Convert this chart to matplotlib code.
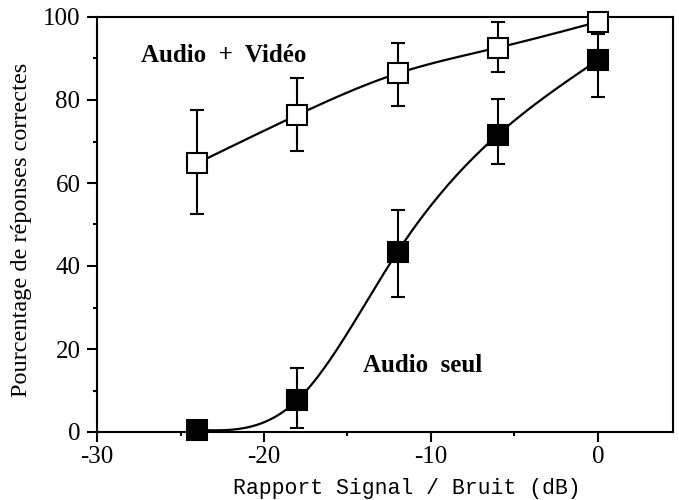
import numpy as np
import matplotlib
matplotlib.use("Agg")
import matplotlib.pyplot as plt
from matplotlib.ticker import MultipleLocator

plt.rcParams["axes.unicode_minus"] = False

# values
snr = [-24, -18, -12, -6, 0]
av_mean = [64.8, 76.4, 86.4, 92.6, 98.8]
av_low = [52.5, 67.7, 78.6, 86.7, 96.0]
av_high = [77.6, 85.3, 93.7, 98.8, 98.8]
a_mean = [0.5, 7.7, 43.4, 71.6, 89.6]
a_low = [0.5, 1.0, 32.5, 64.5, 80.7]
a_high = [0.5, 15.4, 53.5, 80.2, 96.1]


def spline(x, y, n=50):
    # natural cubic spline through the points
    x = np.asarray(x, float)
    y = np.asarray(y, float)
    k = len(x)
    h = np.diff(x)
    A = np.zeros((k, k))
    r = np.zeros(k)
    A[0, 0] = A[-1, -1] = 1
    for i in range(1, k - 1):
        A[i, i - 1] = h[i - 1]
        A[i, i] = 2 * (h[i - 1] + h[i])
        A[i, i + 1] = h[i]
        r[i] = 6 * ((y[i + 1] - y[i]) / h[i] - (y[i] - y[i - 1]) / h[i - 1])
    M = np.linalg.solve(A, r)
    xs, ys = [], []
    for i in range(k - 1):
        t = np.linspace(x[i], x[i + 1], n)
        a, b = x[i + 1] - t, t - x[i]
        ys.append(M[i] * a**3 / (6 * h[i]) + M[i + 1] * b**3 / (6 * h[i])
                  + (y[i] / h[i] - M[i] * h[i] / 6) * a
                  + (y[i + 1] / h[i] - M[i + 1] * h[i] / 6) * b)
        xs.append(t)
    return np.concatenate(xs), np.concatenate(ys)


serif = "Liberation Serif"
fig = plt.figure(figsize=(6.79, 5), dpi=100)
ax = fig.add_axes([0.143, 0.136, 0.848, 0.830])

for mean, low, high, face in [(av_mean, av_low, av_high, "white"),
                              (a_mean, a_low, a_high, "black")]:
    sx, sy = spline(snr, mean)
    ax.plot(sx, sy, color="black", lw=1.6, zorder=2)
    mean = np.array(mean)
    yerr = [mean - np.array(low), np.array(high) - mean]
    ax.errorbar(snr, mean, yerr=yerr, fmt="none", ecolor="black",
                elinewidth=1.5, capsize=5, capthick=1.5, zorder=3)
    ax.plot(snr, mean, "s", ms=14, mfc=face, mec="black", mew=1.5,
            zorder=4, clip_on=False)

ax.set_xlim(-30, 4.5)
ax.set_ylim(0, 100)
ax.xaxis.set_major_locator(MultipleLocator(10))
ax.xaxis.set_minor_locator(MultipleLocator(5))
ax.yaxis.set_major_locator(MultipleLocator(20))
ax.yaxis.set_minor_locator(MultipleLocator(10))
ax.tick_params(which="major", direction="out", length=7, width=1.5,
               labelsize=18, pad=3)
ax.tick_params(axis="y", which="major", pad=5)
ax.tick_params(which="minor", direction="out", length=3, width=1.5)
for lab in ax.get_xticklabels() + ax.get_yticklabels():
    lab.set_fontfamily(serif)
for s in ax.spines.values():
    s.set_linewidth(1.5)

ax.text(-22.4, 90.8, "Audio  +  Vidéo", fontsize=18, fontweight="bold",
        family=serif, ha="center", va="center")
ax.text(-10.5, 16, "Audio  seul", fontsize=18, fontweight="bold",
        family=serif, ha="center", va="center")

ax.set_ylabel("Pourcentage de réponses correctes", fontsize=17.5,
              family=serif, labelpad=8, y=0.487)
ax.set_xlabel("Rapport Signal / Bruit (dB)", fontsize=15.5,
              family="Liberation Mono", labelpad=7, x=0.538)

fig.savefig("out.png", dpi=100)
